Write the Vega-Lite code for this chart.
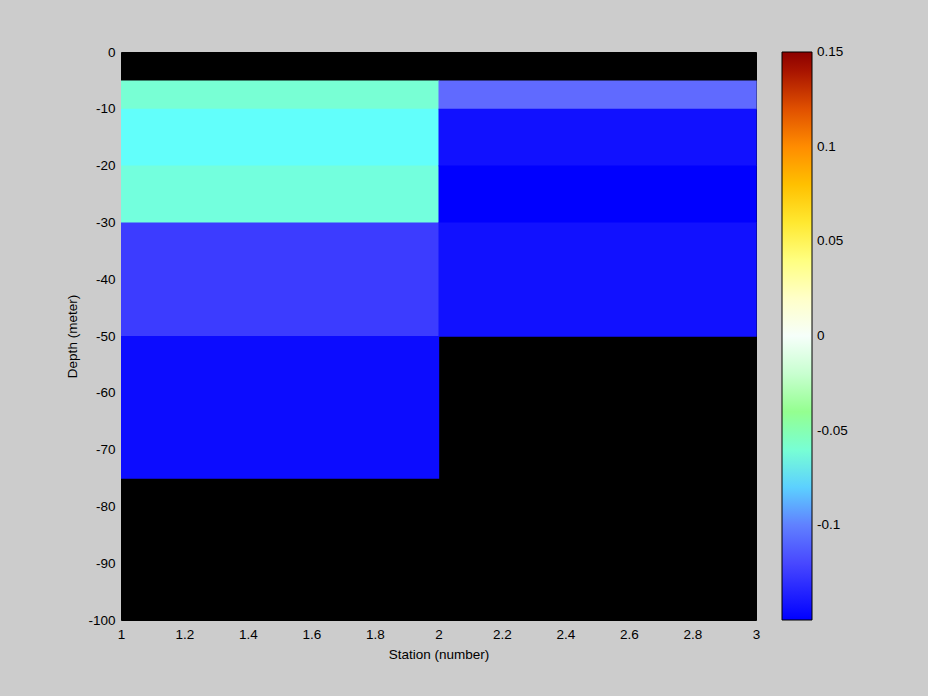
{
  "$schema": "https://vega.github.io/schema/vega-lite/v6.json",
  "width": 635,
  "height": 568,
  "autosize": "none",
  "padding": {"left": 121, "top": 52, "right": 172, "bottom": 76},
  "background": "#cccccc",
  "config": {
    "view": {"fill": "black", "stroke": "black", "strokeWidth": 1},
    "font": "Liberation Sans"
  },
  "data": {
    "values": [
      {"s0": 1, "s1": 2, "d0": -5, "d1": -10, "v": -0.060},
      {"s0": 1, "s1": 2, "d0": -10, "d1": -20, "v": -0.069},
      {"s0": 1, "s1": 2, "d0": -20, "d1": -30, "v": -0.062},
      {"s0": 1, "s1": 2, "d0": -30, "d1": -50, "v": -0.125},
      {"s0": 1, "s1": 2, "d0": -50, "d1": -75, "v": -0.145},
      {"s0": 2, "s1": 3, "d0": -5, "d1": -10, "v": -0.107},
      {"s0": 2, "s1": 3, "d0": -10, "d1": -20, "v": -0.143},
      {"s0": 2, "s1": 3, "d0": -20, "d1": -30, "v": -0.150},
      {"s0": 2, "s1": 3, "d0": -30, "d1": -50, "v": -0.143}
    ]
  },
  "mark": {"type": "rect", "strokeWidth": 0, "x2Offset": 0.7, "y2Offset": 0.7},
  "encoding": {
    "x": {
      "field": "s0", "type": "quantitative",
      "scale": {"domain": [1, 3], "nice": false, "zero": false},
      "axis": {
        "title": "Station (number)", "values": [1, 1.2, 1.4, 1.6, 1.8, 2, 2.2, 2.4, 2.6, 2.8, 3],
        "labelExpr": "toString(datum.value)", "grid": false, "ticks": false, "domain": false,
        "labelPadding": 7, "labelFontSize": 13.5, "labelColor": "black",
        "titleFontSize": 13.5, "titleFontWeight": "normal", "titleColor": "black", "titlePadding": 7,
        "labelFlush": false, "labelOverlap": false
      }
    },
    "x2": {"field": "s1"},
    "y": {
      "field": "d0", "type": "quantitative",
      "scale": {"domain": [-100, 0], "nice": false, "zero": false},
      "axis": {
        "title": "Depth (meter)", "values": [-100, -90, -80, -70, -60, -50, -40, -30, -20, -10, 0],
        "labelExpr": "toString(datum.value)", "grid": false, "ticks": false, "domain": false,
        "labelPadding": 6, "labelFontSize": 13.5, "labelColor": "black",
        "titleFontSize": 13.5, "titleFontWeight": "normal", "titleColor": "black", "titlePadding": 8,
        "labelFlush": false, "labelOverlap": false
      }
    },
    "y2": {"field": "d1"},
    "color": {
      "field": "v", "type": "quantitative",
      "scale": {
        "domain": [-0.15, -0.14, -0.13, -0.12, -0.11, -0.10, -0.09, -0.08, -0.07, -0.06, -0.05, -0.04, -0.03, -0.02, -0.01, 0, 0.01, 0.02, 0.03, 0.04, 0.05, 0.06, 0.07, 0.08, 0.09, 0.10, 0.11, 0.12, 0.13, 0.14, 0.15],
        "range": ["#0000ff", "#1818ff", "#3030ff", "#4848ff", "#6060ff", "#6080ff", "#60a8ff", "#5cd0ff", "#60ffff", "#78ffd4", "#84ffb0", "#94ff90", "#b0ffb0", "#c8ffd0", "#e0ffe8", "#f6fffa", "#fffff0", "#ffffc8", "#ffffa0", "#ffff80", "#fff050", "#ffe830", "#ffd800", "#ffc000", "#ffa800", "#ff8c00", "#f07000", "#e05000", "#c83000", "#a81400", "#8c0000"],
        "interpolate": "rgb"
      },
      "legend": {
        "title": null, "orient": "right", "offset": 26, "padding": 0,
        "direction": "vertical",
        "gradientLength": 568, "gradientThickness": 30,
        "gradientStrokeColor": "black", "gradientStrokeWidth": 1,
        "values": [-0.1, -0.05, 0, 0.05, 0.1, 0.15],
        "labelExpr": "toString(datum.value)", "labelFlush": false,
        "labelFontSize": 13.5, "labelColor": "black", "labelOffset": 5, "labelOverlap": false,
        "encode": {"labels": {"update": {"baseline": {"value": "middle"}}}}
      }
    }
  }
}
